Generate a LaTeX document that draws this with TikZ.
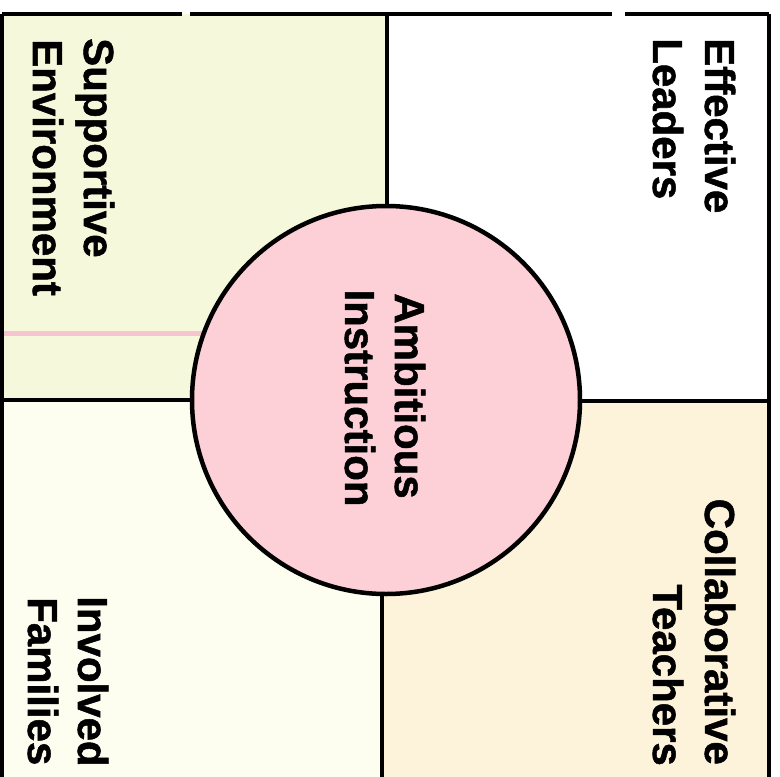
\documentclass[tikz,border=0pt]{standalone}
\usepackage{fontspec}
\setmainfont{Liberation Sans}[BoldFeatures={FakeBold=1.2}]
\definecolor{tlfill}{HTML}{F5F8DA}
\definecolor{blfill}{HTML}{FEFEF0}
\definecolor{brfill}{HTML}{FDF3DA}
\definecolor{circfill}{HTML}{FDD0D8}
\definecolor{pinkline}{HTML}{F5C4CF}
\tikzset{
  frameline/.style={draw=black, line width=3.2pt},
  label/.style={font=\fontsize{42}{50}\selectfont\bfseries, rotate=-90, inner sep=0pt, text=black},
}
\begin{document}
\begin{tikzpicture}[x=1pt,y=-1pt]
\useasboundingbox (0,0) rectangle (780,777);
\fill[white] (0,0) rectangle (780,777);
% named corners
\coordinate (TL) at (2,14);
\coordinate (TR) at (769,14);
\coordinate (BL) at (2,777);
\coordinate (BR) at (769,777);
\coordinate (Vt) at (387,14);
\coordinate (Vm) at (387,400);
\coordinate (Vb) at (382,777);
\coordinate (Vbm) at (382,400);
\coordinate (Hl) at (2,400);
\coordinate (Hr) at (769,401);
\coordinate (Hm) at (386,400);
\coordinate (pinkL) at (2,333);
\coordinate (pinkR) at (386,333);
% quadrant fills
\fill[tlfill] (TL) rectangle (Vm);
\fill[blfill] (Hl) rectangle (Vb);
\fill[brfill] (Vbm) rectangle (BR);
% pink line
\draw[pinkline, line width=5pt] (pinkL) -- (pinkR);
% frame
\draw[frameline] (TL) -- ++(180,0);
\draw[frameline] (190,14) -- (612,14);
\draw[frameline] (625,14) -- (TR);
\draw[frameline] (TL) -- (BL);
\draw[frameline] (TR) -- (BR);
% dividers
\draw[frameline] (Vt) -- (Vm);
\draw[frameline] (Vbm) -- (Vb);
\draw[frameline] (Hl) -- (Hm);
\draw[frameline] (Hm |- Hr) -- (Hr);
% circle
\node[circle, draw=black, line width=4.5pt, fill=circfill, minimum size=388pt, inner sep=0pt] (circ) at (386,400) {};
% labels
\node[label, anchor=base west] (sup) at (84,38) {Supportive};
\node[label, anchor=base west] (env) at (33,39) {Environment};
\node[label, anchor=base west] (eff) at (705,38) {Effective};
\node[label, anchor=base west] (lea) at (653,38) {Leaders};
\node[label, anchor=base] (amb) at (395,396) {Ambitious};
\node[label, anchor=base] (ins) at (345,398) {Instruction};
\node[label, anchor=base west] (inv) at (78,596) {Involved};
\node[label, anchor=base west] (fam) at (28,597) {Families};
\node[label, anchor=base east] (col) at (705,765) {Collaborative};
\node[label, anchor=base east] (tea) at (653,766) {Teachers};
\end{tikzpicture}
\end{document}
